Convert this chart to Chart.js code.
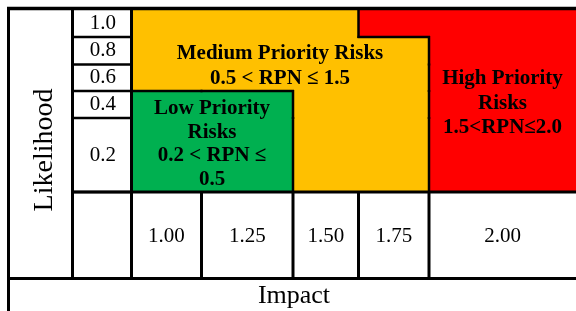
<!DOCTYPE html>
<html>
<head>
<meta charset="utf-8">
<script src="https://cdn.jsdelivr.net/npm/chart.js@4/dist/chart.umd.min.js"></script>
<style>
  html, body { margin: 0; padding: 0; background: #fff; }
  #wrap { position: relative; width: 576px; height: 311px; }
</style>
</head>
<body>
<div id="wrap"><canvas id="riskChart"></canvas></div>
<script>
// Data: likelihood rows (top to bottom), impact columns (left to right)
const likelihoodLabels = ['1.0', '0.8', '0.6', '0.4', '0.2'];
const impactLabels = ['1.00', '1.25', '1.50', '1.75', '2.00'];

// Risk class of every cell, row by row (L = low, M = medium, H = high)
const riskGrid = [
    ['M', 'M', 'M', 'H', 'H'],
    ['M', 'M', 'M', 'M', 'H'],
    ['M', 'M', 'M', 'M', 'H'],
    ['L', 'L', 'M', 'M', 'H'],
    ['L', 'L', 'M', 'M', 'H']
];

// Region captions
const lowText = ['Low Priority', 'Risks', '0.2 < RPN ≤', '0.5'];
const mediumText = ['Medium Priority Risks', '0.5 < RPN ≤ 1.5'];
const highText = ['High Priority', 'Risks', '1.5<RPN≤2.0'];

// Layout (not data): cell sizes of the table in scale units
const colWidths = [70.5, 91.5, 65.5, 70.5, 147];
const rowHeights = [27, 27.5, 26.5, 27, 74];
const riskColors = { L: '#00B050', M: '#FFC000', H: '#FF0000' };

function edges(sizes) {
    const out = [0];
    sizes.forEach(s => out.push(out[out.length - 1] + s));
    return out;
}
const colEdges = edges(colWidths);
const rowEdges = edges(rowHeights);
const colCenters = colWidths.map((w, i) => colEdges[i] + w / 2);
const rowCenters = rowHeights.map((h, i) => rowEdges[i] + h / 2);

const SERIF = '"Liberation Serif", "Times New Roman", serif';

function line(ctx, x1, y1, x2, y2, w) {
    ctx.beginPath();
    ctx.lineWidth = w;
    ctx.moveTo(x1, y1);
    ctx.lineTo(x2, y2);
    ctx.stroke();
}

// Fills the cells and draws borders between different risk classes
const cellPlugin = {
    id: 'cells',
    beforeDatasetsDraw(chart) {
        const { ctx, scales: { x, y } } = chart;
        ctx.save();
        riskGrid.forEach((row, r) => {
            row.forEach((cls, c) => {
                const x0 = x.getPixelForValue(colEdges[c]);
                const x1 = x.getPixelForValue(colEdges[c + 1]);
                const y0 = y.getPixelForValue(rowEdges[r]);
                const y1 = y.getPixelForValue(rowEdges[r + 1]);
                ctx.fillStyle = riskColors[cls];
                ctx.fillRect(x0, y0, x1 - x0 + 0.5, y1 - y0 + 0.5);
            });
        });
        ctx.strokeStyle = '#000';
        riskGrid.forEach((row, r) => {
            row.forEach((cls, c) => {
                const x0 = x.getPixelForValue(colEdges[c]);
                const x1 = x.getPixelForValue(colEdges[c + 1]);
                const y0 = y.getPixelForValue(rowEdges[r]);
                const y1 = y.getPixelForValue(rowEdges[r + 1]);
                if (c + 1 < row.length && row[c + 1] !== cls) line(ctx, x1, y0 - 1, x1, y1 + 1, 2.5);
                if (r + 1 < riskGrid.length && riskGrid[r + 1][c] !== cls) line(ctx, x0 - 1, y1, x1 + 1, y1, 2.5);
            });
        });
        ctx.restore();
    },
    afterDraw(chart) {
        const { ctx, chartArea: a, scales: { x, y } } = chart;
        const W = chart.width;
        const H = chart.height;
        const colLeft = 72.5;   // right edge of the "Likelihood" column
        const tableBottom = 278.5;
        ctx.save();
        ctx.strokeStyle = '#000';

        // outer frame
        line(ctx, 7, a.top - 1.5, W, a.top - 1.5, 3.5);
        line(ctx, 8.5, 7, 8.5, H, 3);
        line(ctx, 7, tableBottom, W, tableBottom, 3);

        // column separators of the left part
        line(ctx, colLeft, a.top - 1.5, colLeft, tableBottom, 3);
        line(ctx, a.left + 0.5, a.top - 1.5, a.left + 0.5, tableBottom, 3);

        // likelihood tick rows
        rowEdges.slice(1).forEach(v => {
            const py = y.getPixelForValue(v);
            line(ctx, colLeft, py, a.left + 0.5, py, 2.5);
        });
        line(ctx, colLeft, a.bottom, W, a.bottom, 3);

        // impact tick columns
        colEdges.slice(1, -1).forEach(v => {
            const px = x.getPixelForValue(v);
            line(ctx, px, a.bottom, px, tableBottom, 3);
        });

        // region captions
        ctx.fillStyle = '#000';
        ctx.font = 'bold 21px ' + SERIF;
        ctx.textAlign = 'center';
        ctx.textBaseline = 'middle';
        const caption = (lines, c0, c1, r0, r1, gap) => {
            const cx = (x.getPixelForValue(colEdges[c0]) + x.getPixelForValue(colEdges[c1])) / 2;
            const cy = (y.getPixelForValue(rowEdges[r0]) + y.getPixelForValue(rowEdges[r1])) / 2 + 2.5;
            lines.forEach((t, i) => {
                ctx.fillText(t, cx, cy + (i - (lines.length - 1) / 2) * gap);
            });
        };
        caption(mediumText, 0, 4, 0, 4, 25);
        caption(lowText, 0, 2, 3, 5, 23.7);
        caption(highText, 4, 5, 0, 5, 24.5);

        // axis titles
        ctx.font = '28px ' + SERIF;
        ctx.textBaseline = 'alphabetic';
        ctx.save();
        ctx.translate(52, 150);
        ctx.rotate(-Math.PI / 2);
        ctx.fillText('Likelihood', 0, 0);
        ctx.restore();

        ctx.font = '26px ' + SERIF;
        ctx.fillText('Impact', 294, 303);
        ctx.restore();
    }
};

const tickFont = { family: SERIF, size: 21 };

// Labels sit inside the table cells, so the axes need no extra edge padding
function noEdgePadding(axis) {
    axis.paddingTop = 0;
    axis.paddingBottom = 0;
    axis.paddingLeft = 0;
    axis.paddingRight = 0;
}

new Chart(document.getElementById('riskChart').getContext('2d'), {
    type: 'scatter',
    data: { datasets: [] },
    options: {
        animation: false,
        responsive: true,
        maintainAspectRatio: false,
        layout: { padding: { top: 10, right: 0, bottom: 0, left: 0 } },
        plugins: { legend: { display: false }, tooltip: { enabled: false } },
        scales: {
            x: {
                type: 'linear',
                min: 0,
                max: colEdges[colEdges.length - 1],
                grid: { display: false, drawTicks: false },
                border: { display: false },
                afterBuildTicks: axis => { axis.ticks = colCenters.map(v => ({ value: v })); },
                afterFit: axis => { axis.height = 119; noEdgePadding(axis); },
                ticks: {
                    autoSkip: false,
                    maxRotation: 0,
                    padding: 32,
                    color: '#000',
                    font: tickFont,
                    callback: (value, index) => impactLabels[index]
                }
            },
            y: {
                type: 'linear',
                reverse: true,
                min: 0,
                max: rowEdges[rowEdges.length - 1],
                grid: { display: false, drawTicks: false },
                border: { display: false },
                afterBuildTicks: axis => { axis.ticks = rowCenters.map(v => ({ value: v })); },
                afterFit: axis => { axis.width = 131; noEdgePadding(axis); },
                ticks: {
                    autoSkip: false,
                    padding: 15,
                    color: '#000',
                    font: tickFont,
                    callback: (value, index) => likelihoodLabels[index]
                }
            }
        }
    },
    plugins: [cellPlugin]
});
</script>
</body>
</html>
